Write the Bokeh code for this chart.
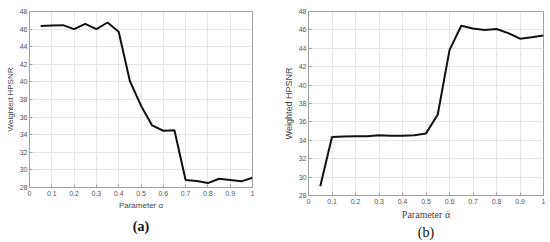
from bokeh.plotting import figure
from bokeh.layouts import row
from bokeh.models import FixedTicker, CustomJSTickFormatter, Range1d, Title
from bokeh.embed import file_html
from bokeh.resources import INLINE

alpha = [0.05, 0.10, 0.15, 0.20, 0.25, 0.30, 0.35, 0.40, 0.45, 0.50,
         0.55, 0.60, 0.65, 0.70, 0.75, 0.80, 0.85, 0.90, 0.95, 1.00]
hpsnr_a = [46.35, 46.4, 46.45, 46.0, 46.6, 46.0, 46.75, 45.7, 40.1, 37.3,
           35.05, 34.45, 34.5, 28.85, 28.75, 28.5, 29.0, 28.85, 28.7, 29.1]
hpsnr_b = [29.0, 34.35, 34.4, 34.45, 34.45, 34.55, 34.5, 34.5, 34.55, 34.75,
           36.8, 43.8, 46.45, 46.15, 46.0, 46.1, 45.65, 45.05, 45.2, 45.4]
x_ticks = [0, 0.1, 0.2, 0.3, 0.4, 0.5, 0.6, 0.7, 0.8, 0.9, 1.0]
y_ticks = [28, 30, 32, 34, 36, 38, 40, 42, 44, 46, 48]

SANS = "Liberation Sans"
SERIF = "Liberation Serif"


def make(x, y, fw, fh, borders, xlabel, xlabel_font, xlabel_size, ylabel_size, xstand,
         caption, cap_bold, cap_standoff, cap_offset):
    left, right, top, bottom = borders
    p = figure(frame_width=fw, frame_height=fh, output_backend="svg", toolbar_location=None,
               x_range=Range1d(0, 1), y_range=Range1d(28, 48),
               min_border_left=left, min_border_right=right,
               min_border_top=top, min_border_bottom=bottom)
    p.line(x, y, line_color="#111111", line_width=2)
    p.outline_line_color = "#a0a0a0"
    p.outline_line_width = 1
    p.background_fill_color = "white"
    p.border_fill_color = "white"
    for ax in (p.xaxis[0], p.yaxis[0]):
        ax.axis_line_color = "#a0a0a0"
        ax.major_tick_line_color = "#a0a0a0"
        ax.major_tick_in = 3
        ax.major_tick_out = 0
        ax.minor_tick_line_color = None
        ax.major_label_text_font = SANS
        ax.major_label_text_font_size = "7px"
        ax.major_label_text_color = "#555555"
        ax.axis_label_text_font_style = "normal"
        ax.axis_label_text_color = "#444444"
    p.xaxis.ticker = FixedTicker(ticks=x_ticks)
    p.yaxis.ticker = FixedTicker(ticks=y_ticks)
    p.xaxis.formatter = CustomJSTickFormatter(code="return tick.toFixed(1).replace(/\\.0$/, '');")
    p.xaxis.major_label_standoff = xstand
    p.yaxis.major_label_standoff = 2
    p.xaxis.axis_label = xlabel
    p.xaxis.axis_label_text_font = xlabel_font
    p.xaxis.axis_label_text_font_size = xlabel_size
    p.xaxis.axis_label_standoff = 2
    p.yaxis.axis_label = "Weighted HPSNR"
    p.yaxis.axis_label_text_font = SANS
    p.yaxis.axis_label_text_font_size = ylabel_size
    p.yaxis.axis_label_standoff = 2
    p.grid.grid_line_color = "#e6e6e6"
    p.grid.grid_line_width = 1
    cap = Title(text=caption, align="center", offset=cap_offset, standoff=cap_standoff,
                text_font=SERIF, text_font_size="14px",
                text_font_style="bold" if cap_bold else "normal",
                text_color="#111111")
    p.add_layout(cap, "below")
    return p


pa = make(alpha, hpsnr_a, 223, 176, (29, 18, 11, 53), "Parameter α", SANS, "8px", "8px", 3,
          "(a)", True, 8, -11)
pb = make(alpha, hpsnr_b, 235, 184, (38, 5, 8, 48), "Parameter ά", SERIF, "10px", "9px", 3,
          "(b)", False, 0, -12)

layout = row(pa, pb, spacing=0)
open("out.html", "w").write(file_html(layout, INLINE))
